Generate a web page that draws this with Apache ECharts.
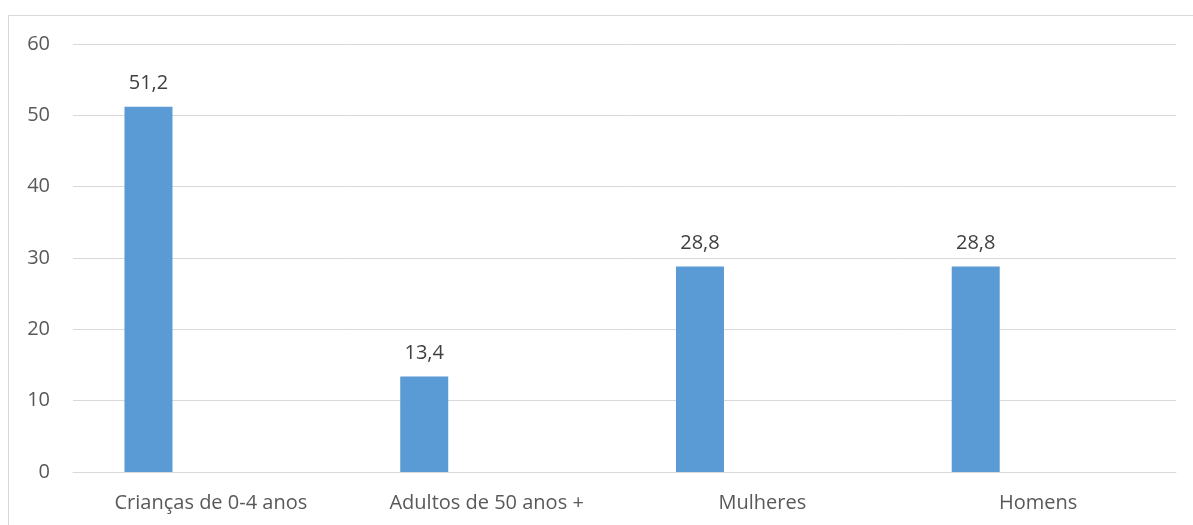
<!DOCTYPE html>
<html>
<head>
<meta charset="utf-8">
<script src="https://cdn.jsdelivr.net/npm/echarts@6/dist/echarts.min.js"></script>
<style>
  html, body { margin: 0; padding: 0; background: #fff; }
  #chart { width: 1193px; height: 525px; }
</style>
</head>
<body>
<div id="chart"></div>
<script>
// dados
const categories = ['Crianças de 0-4 anos', 'Adultos de 50 anos +', 'Mulheres', 'Homens'];
const values = [51.2, 13.4, 28.8, 28.8];
const emptySeries = [];   // segunda série vazia (reserva o espaço como no Excel)
const yTicks = { min: 0, max: 60, interval: 10 };

const chart = echarts.init(document.getElementById('chart'));
const font = '"Open Sans", "Noto Sans", sans-serif';

const option = {
  animation: false,
  graphic: [
    {
      type: 'rect',
      shape: { x: 8.5, y: 15.5, width: 1200, height: 530 },
      style: { fill: 'none', stroke: '#d9d9d9', lineWidth: 1 },
      silent: true
    }
  ],
  grid: { left: 73, right: 17, top: 44, bottom: 53 },
  xAxis: {
    type: 'category',
    data: categories,
    axisLine: { show: true, lineStyle: { color: '#d9d9d9', width: 1 } },
    axisTick: { show: false },
    axisLabel: { color: '#595959', fontSize: 20, fontFamily: font, margin: 21 }
  },
  yAxis: {
    type: 'value',
    min: yTicks.min,
    max: yTicks.max,
    interval: yTicks.interval,
    axisLine: { show: false },
    axisTick: { show: false },
    splitLine: { lineStyle: { color: '#d9d9d9', width: 1 } },
    axisLabel: { color: '#595959', fontSize: 20, fontFamily: font, margin: 23 }
  },
  series: [
    {
      type: 'bar',
      data: values,
      barWidth: 48,
      barGap: '160%',
      itemStyle: { color: '#5b9bd5' },
      label: {
        show: true,
        position: 'top',
        distance: 13,
        color: '#404040',
        fontSize: 20,
        fontFamily: font,
        formatter: p => String(p.value).replace('.', ',')
      }
    },
    {
      type: 'bar',
      data: emptySeries,
      barWidth: 48
    }
  ]
};
chart.setOption(option);
</script>
</body>
</html>
